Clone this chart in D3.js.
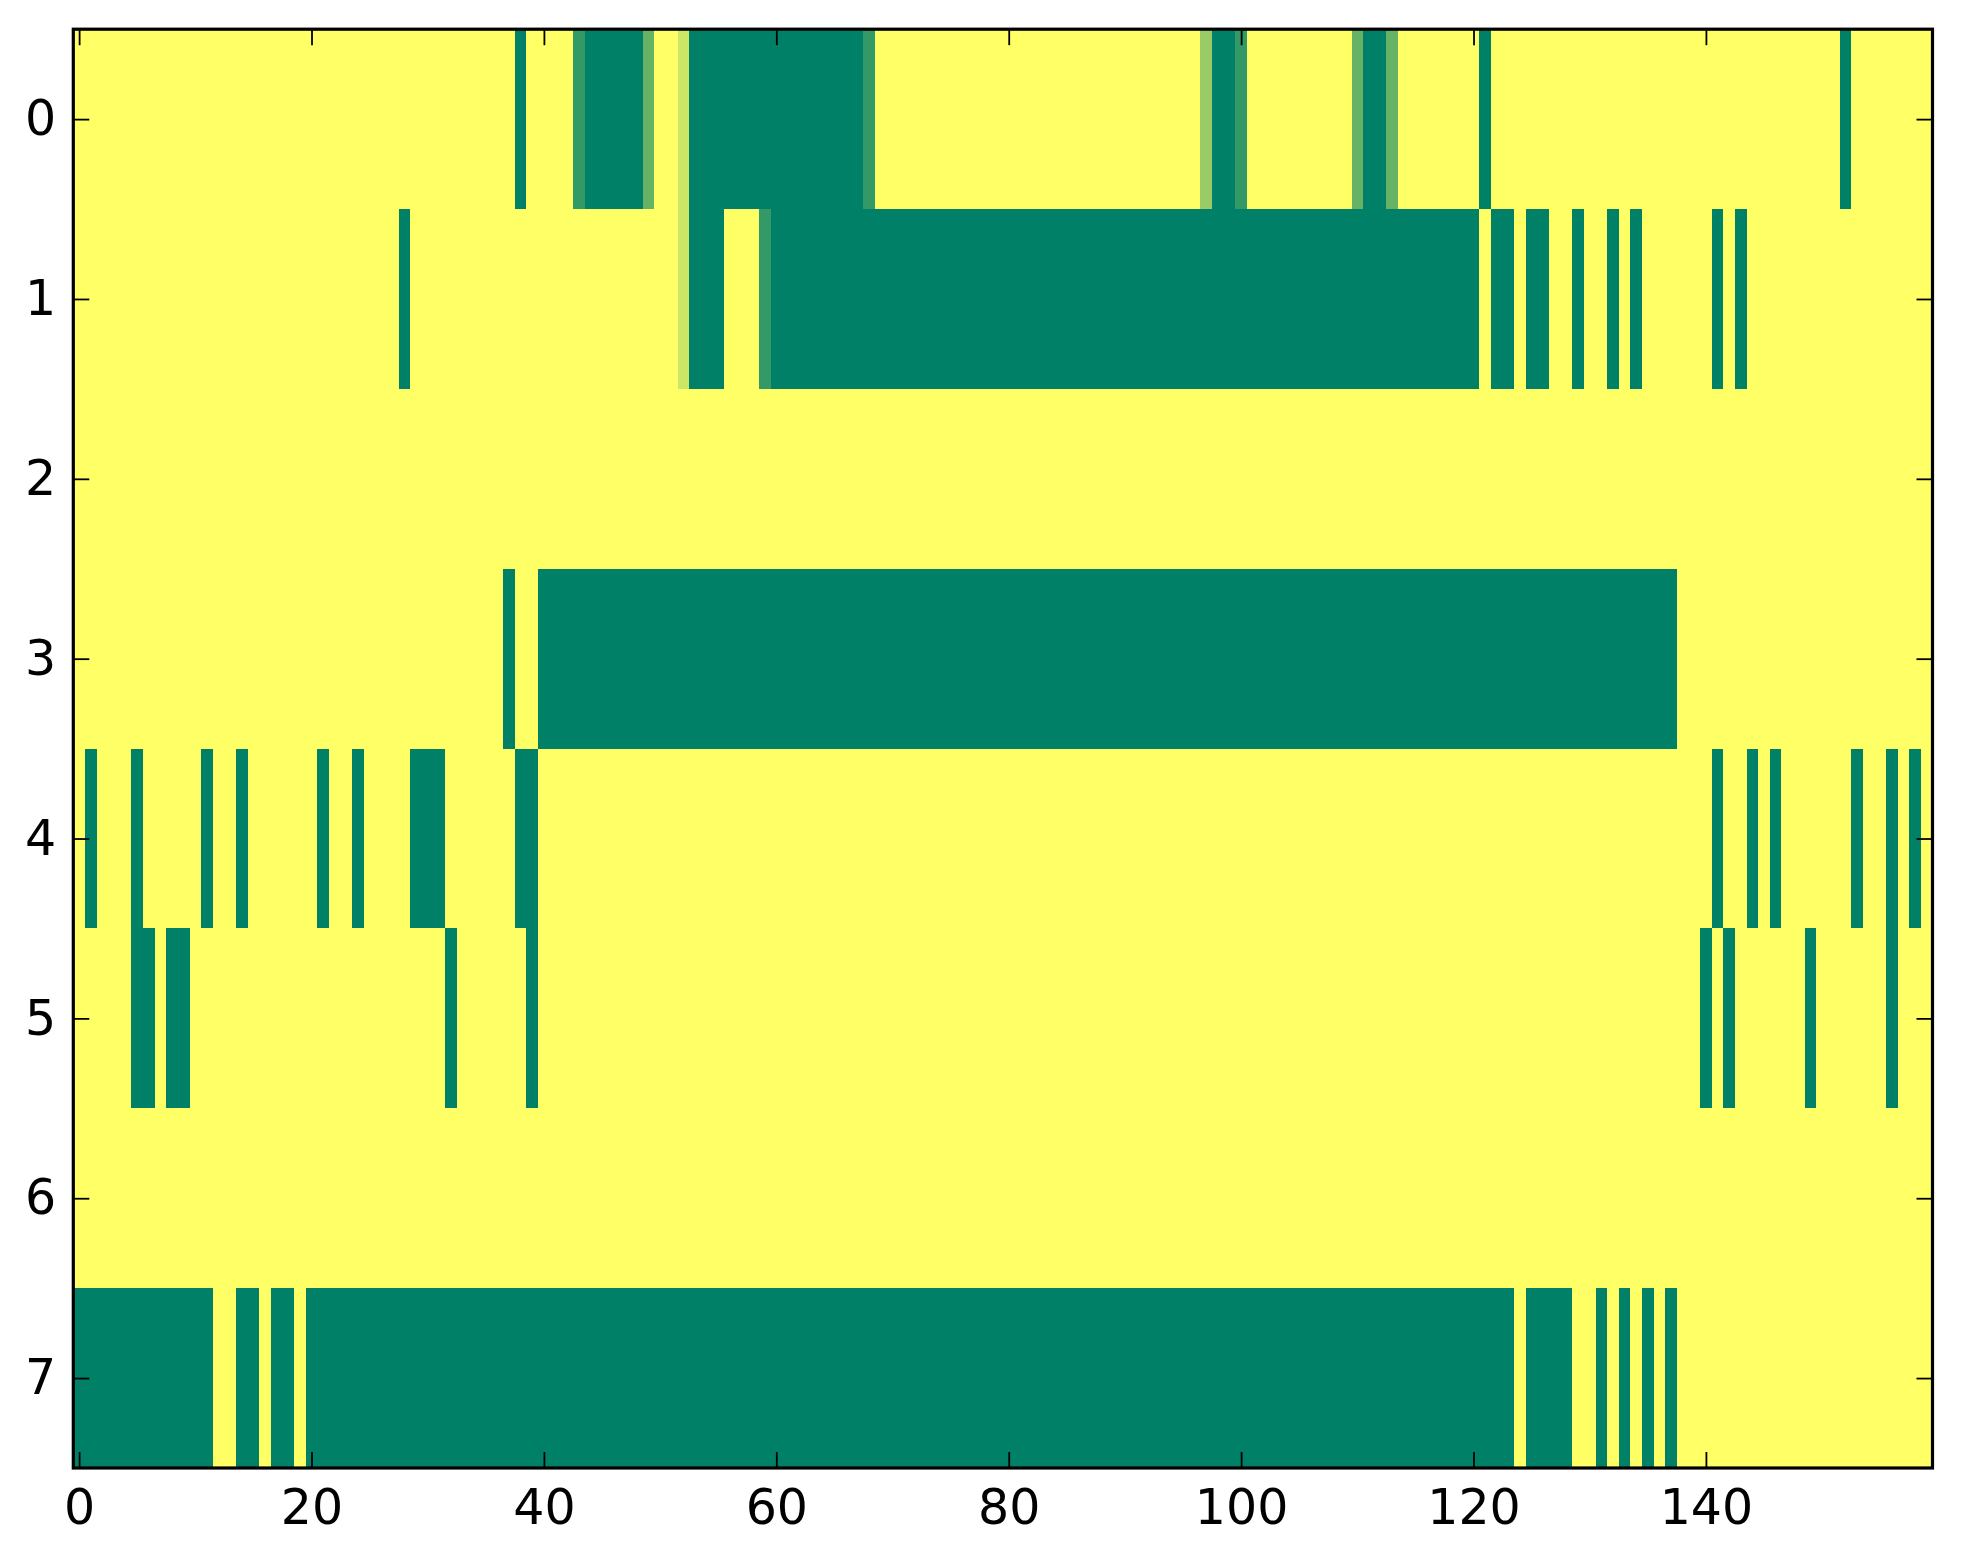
<!DOCTYPE html>
<html>
<head>
<meta charset="utf-8">
<script src="https://cdn.jsdelivr.net/npm/d3@7"></script>
<style>
  html, body { margin: 0; padding: 0; background: #ffffff; }
</style>
</head>
<body>
<div id="chart"></div>
<script>
// row labels (image rows, top to bottom) and column count
const rowLabels = [0, 1, 2, 3, 4, 5, 6, 7];
const columnCount = 160;

// tick labels
const xTicks = [0, 20, 40, 60, 80, 100, 120, 140];
const yTicks = [0, 1, 2, 3, 4, 5, 6, 7];

// every cell is 1 (yellow) unless listed here: [firstColumn, lastColumn, value]
const row0 = [[38, 38, 0], [43, 43, 0.2], [44, 48, 0], [49, 49, 0.4], [52, 52, 0.8], [53, 67, 0],
  [68, 68, 0.2], [97, 97, 0.6], [98, 99, 0], [100, 100, 0.2], [110, 110, 0.4], [111, 112, 0],
  [113, 113, 0.4], [121, 121, 0], [152, 152, 0]];
const row1 = [[28, 28, 0], [52, 52, 0.8], [53, 55, 0], [59, 59, 0.2], [60, 120, 0], [122, 123, 0],
  [125, 126, 0], [129, 129, 0], [132, 132, 0], [134, 134, 0], [141, 141, 0], [143, 143, 0]];
const row2 = [];
const row3 = [[37, 37, 0], [40, 137, 0]];
const row4 = [[1, 1, 0], [5, 5, 0], [11, 11, 0], [14, 14, 0], [21, 21, 0], [24, 24, 0], [29, 31, 0],
  [38, 39, 0], [141, 141, 0], [144, 144, 0], [146, 146, 0], [153, 153, 0], [156, 156, 0], [158, 158, 0]];
const row5 = [[5, 6, 0], [8, 9, 0], [32, 32, 0], [39, 39, 0], [140, 140, 0], [142, 142, 0],
  [149, 149, 0], [156, 156, 0]];
const row6 = [];
const row7 = [[0, 11, 0], [14, 15, 0], [17, 18, 0], [20, 123, 0], [125, 128, 0], [131, 131, 0],
  [133, 133, 0], [135, 135, 0], [137, 137, 0]];

const rowRuns = [row0, row1, row2, row3, row4, row5, row6, row7];

// settings of the svg appearance
const settings = {
  width: 1963,
  height: 1564,
  margin: { top: 29.2, left: 73.3, right: 30.5, bottom: 96 },
  fontSize: 49,
  tickLength: 16,
  tickWidth: 1.8,
  spineWidth: 3.2,
  low: "#008066", // summer colormap, value 0
  high: "#ffff66", // summer colormap, value 1
};

// expand the runs into one cell per column
const cells = [];
rowRuns.forEach((runs, r) => {
  const values = new Array(columnCount).fill(1);
  runs.forEach(([a, b, v]) => {
    for (let c = a; c <= b; c++) values[c] = v;
  });
  values.forEach((v, c) => cells.push({ row: rowLabels[r], col: c, value: v }));
});

function drawChart(settings) {
  const m = settings.margin;
  const svg = d3.select("#chart")
    .append("svg")
    .attr("width", settings.width)
    .attr("height", settings.height)
    .style("display", "block");

  svg.append("rect")
    .attr("width", settings.width)
    .attr("height", settings.height)
    .attr("fill", "#ffffff");

  const left = m.left, right = settings.width - m.right;
  const top = m.top, bottom = settings.height - m.bottom;

  const columns = d3.range(columnCount);
  const xBand = d3.scaleBand().domain(columns).range([left, right]);
  const yBand = d3.scaleBand().domain(rowLabels).range([top, bottom]);
  const x = d3.scaleLinear().domain([-0.5, columnCount - 0.5]).range([left, right]);
  const y = d3.scaleLinear().domain([-0.5, rowLabels.length - 0.5]).range([top, bottom]);
  const color = d3.scaleLinear().domain([0, 1])
    .range([settings.low, settings.high])
    .interpolate(d3.interpolateRgb);

  // the image cells (each overlaps its right/lower neighbour a little so no seams show)
  svg.append("g")
    .attr("shape-rendering", "crispEdges")
    .selectAll("rect")
    .data(cells)
    .enter()
    .append("rect")
    .attr("x", (d) => xBand(d.col))
    .attr("y", (d) => yBand(d.row))
    .attr("width", (d) => xBand.bandwidth() + (d.col < columnCount - 1 ? 1 : 0))
    .attr("height", (d) => yBand.bandwidth() + (d.row < rowLabels.length - 1 ? 1 : 0))
    .attr("fill", (d) => color(d.value));

  // axes, ticks pointing inwards on all four sides
  function styleAxis(g) {
    g.select(".domain").remove();
    g.selectAll(".tick line")
      .attr("stroke", "#000")
      .attr("stroke-width", settings.tickWidth);
    g.selectAll(".tick text")
      .attr("fill", "#000")
      .style("font-family", "'DejaVu Sans', sans-serif")
      .style("font-size", settings.fontSize + "px");
  }

  svg.append("g")
    .attr("transform", `translate(0,${bottom})`)
    .call(d3.axisBottom(x).tickValues(xTicks).tickFormat(d3.format("d"))
      .tickSizeInner(-settings.tickLength).tickSizeOuter(0).tickPadding(21))
    .call(styleAxis);

  svg.append("g")
    .attr("transform", `translate(0,${top})`)
    .call(d3.axisTop(x).tickValues(xTicks).tickFormat("")
      .tickSizeInner(-settings.tickLength).tickSizeOuter(0))
    .call(styleAxis);

  svg.append("g")
    .attr("transform", `translate(${left},0)`)
    .call(d3.axisLeft(y).tickValues(yTicks).tickFormat(d3.format("d"))
      .tickSizeInner(-settings.tickLength).tickSizeOuter(0).tickPadding(17))
    .call(styleAxis);

  svg.append("g")
    .attr("transform", `translate(${right},0)`)
    .call(d3.axisRight(y).tickValues(yTicks).tickFormat("")
      .tickSizeInner(-settings.tickLength).tickSizeOuter(0))
    .call(styleAxis);

  // frame
  svg.append("rect")
    .attr("x", left)
    .attr("y", top)
    .attr("width", right - left)
    .attr("height", bottom - top)
    .attr("fill", "none")
    .attr("stroke", "#000")
    .attr("stroke-width", settings.spineWidth);
}

drawChart(settings);
</script>
</body>
</html>
